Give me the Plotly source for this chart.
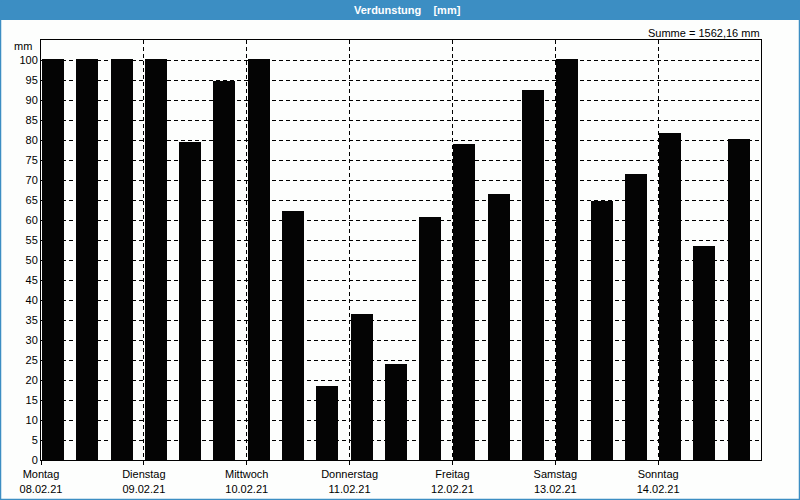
import plotly.graph_objects as go

days = ["Montag", "Dienstag", "Mittwoch", "Donnerstag", "Freitag", "Samstag", "Sonntag"]
dates = ["08.02.21", "09.02.21", "10.02.21", "11.02.21", "12.02.21", "13.02.21", "14.02.21"]
values = [100.2, 100.2, 100.2, 100.2, 79.6, 94.8, 100.2, 62.25, 18.5, 36.5, 24.0,
          60.8, 79.0, 66.5, 92.5, 100.2, 64.8, 71.5, 81.75, 53.5, 80.25]
slots = list(range(len(values)))
y_ticks = list(range(0, 101, 5))

BLUE = "#3C8EC3"
FONT = "Liberation Sans"

W, H = 800, 500
L, R, T, B = 41, 39, 40, 40
pw, ph = W - L - R, H - T - B

def px_x(x):
    return (x - L) / pw

def px_y(y):
    return (H - B - y) / ph

fig = go.Figure()
fig.add_trace(go.Bar(
    x=[s + 0.35 for s in slots], y=values, width=0.64,
    marker=dict(color="#040404", line=dict(width=0)),
    hoverinfo="y",
))

fig.update_layout(
    width=W, height=H,
    margin=dict(l=L, r=R, t=T, b=B, autoexpand=False),
    paper_bgcolor="#FDFEFD", plot_bgcolor="#FDFEFD",
    showlegend=False,
    font=dict(family=FONT, size=11, color="#000000"),
    bargap=0,
)
fig.update_xaxes(
    range=[0, 21],
    tickvals=[3 * i for i in range(len(days))],
    ticktext=[f"{d}<br>{t}" for d, t in zip(days, dates)],
    ticks="outside", ticklen=4, tickcolor="#000000",
    showgrid=True, gridcolor="#000000", gridwidth=1, griddash="4px,3px",
    showline=True, linecolor="#000000", linewidth=1, mirror=True,
    zeroline=False, fixedrange=True, automargin=False,
)
fig.update_yaxes(
    range=[0, 105],
    tickvals=y_ticks,
    ticks="",
    showgrid=True, gridcolor="#000000", gridwidth=1, griddash="4px,3px",
    showline=True, linecolor="#000000", linewidth=1, mirror=True,
    zeroline=False, fixedrange=True, automargin=False,
)

# title bar
fig.add_shape(type="rect", xref="paper", yref="paper",
              x0=px_x(0), x1=px_x(W), y0=px_y(20), y1=px_y(0),
              fillcolor=BLUE, line=dict(width=0), layer="above")
# window border
fig.add_shape(type="rect", xref="paper", yref="paper",
              x0=px_x(0.5), x1=px_x(W - 0.5), y0=px_y(H - 0.5), y1=px_y(0.5),
              fillcolor="rgba(0,0,0,0)", line=dict(color=BLUE, width=1.5), layer="above")

fig.add_annotation(xref="paper", yref="paper", x=px_x(407), y=px_y(10),
                   text="Verdunstung\u00a0\u00a0\u00a0\u00a0[mm]", showarrow=False,
                   font=dict(family=FONT, size=11, color="#FFFFFF", weight="bold"),
                   xanchor="center", yanchor="middle")
fig.add_annotation(xref="paper", yref="paper", x=px_x(762), y=px_y(32.5),
                   text="Summe = 1562,16 mm", showarrow=False,
                   font=dict(family=FONT, size=11, color="#000000"),
                   xanchor="right", yanchor="middle")
fig.add_annotation(xref="paper", yref="paper", x=px_x(12), y=px_y(46.5),
                   text="mm", showarrow=False,
                   font=dict(family=FONT, size=11, color="#000000"),
                   xanchor="left", yanchor="middle")

fig.write_html("out.html")
